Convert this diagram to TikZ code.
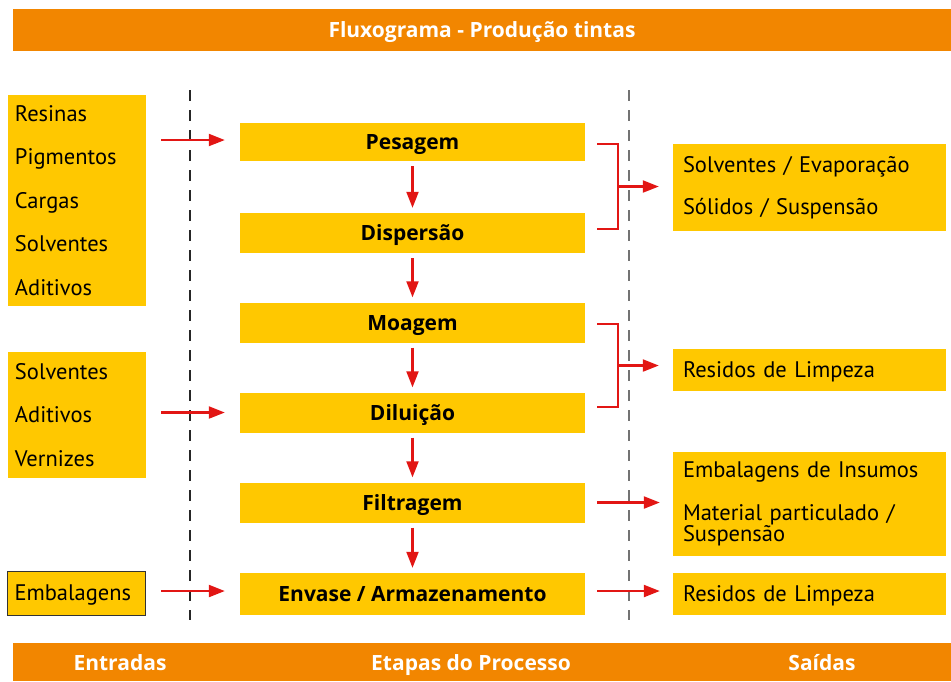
\documentclass[tikz,border=0pt]{standalone}
\usepackage{fontspec}
\setmainfont{PT Sans}
\newfontfamily\headfont{Open Sans}
\usetikzlibrary{arrows.meta,calc}
\definecolor{barorange}{RGB}{242,134,0}
\definecolor{boxyellow}{RGB}{255,200,0}
\definecolor{arrred}{RGB}{226,22,20}
\begin{document}
\begin{tikzpicture}[x=1pt,y=-1pt,
  bar/.style={fill=barorange,draw=none,text=white,font=\headfont\fontsize{21}{23}\selectfont\bfseries,inner sep=0pt,text height=15pt,text depth=0pt},
  barlabel/.style={text=white,font=\headfont\fontsize{21}{23}\selectfont\bfseries,inner sep=0pt,text height=15pt,text depth=0pt},
  inbox/.style={fill=boxyellow,draw=none,font=\fontsize{22.5}{21.5}\selectfont,align=left,inner xsep=7pt,inner ysep=0pt,text width=124pt,minimum width=138pt},
  outbox/.style={fill=boxyellow,draw=none,font=\fontsize{22.5}{21.5}\selectfont,align=left,inner xsep=10pt,inner ysep=0pt,text width=253pt,minimum width=273pt},
  oneline/.style={text height=15.5pt,text depth=0pt},
  stepbox/.style={fill=boxyellow,draw=none,font=\headfont\fontsize{21}{23}\selectfont\bfseries,minimum width=345pt,minimum height=40pt,inner sep=0pt,text height=15pt,text depth=0pt},
  arr/.style={draw=arrred,line width=2.2pt,-{Triangle[length=16pt,width=12pt]}},
  rl/.style={draw=arrred,line width=2.2pt},
  divider/.style={line width=1.1pt,dash pattern=on 11pt off 9pt}
]
\useasboundingbox (0,0) rectangle (951,681);

% bars
\node[bar,minimum width=938pt,minimum height=42pt] (title) at (482,30) {Fluxograma - Produção tintas};
\node[bar,minimum width=938pt,minimum height=38pt] (foot) at (482,662) {};
\node[barlabel] (lin) at (120,663) {Entradas};
\node[barlabel] (lproc) at (471,663) {Etapas do Processo};
\node[barlabel] (lout) at (822,663) {Saídas};

% dividers
\draw[divider,black!85] (190,90) -- (190,620);
\draw[divider,black!55] (629,90) -- (629,620);

% inputs
\node[inbox,minimum height=211pt] (in1) at (77,200.5) {Resinas\\[22pt]Pigmentos\\[22pt]Cargas\\[22pt]Solventes\\[22pt]Aditivos};
\node[inbox,minimum height=126pt] (in2) at (77,415) {Solventes\\[22pt]Aditivos\\[22pt]Vernizes};
\node[inbox,oneline,minimum height=44pt,draw=black!80,line width=1pt] (emb) at (76.5,593) {Embalagens};

% process steps
\node[stepbox,minimum height=38pt] (pes) at (412.5,142) {Pesagem};
\node[stepbox] (disp) at (412.5,233) {Dispersão};
\node[stepbox] (moa) at (412.5,322.5) {Moagem};
\node[stepbox] (dil) at (412.5,412.5) {Diluição};
\node[stepbox] (fil) at (412.5,502.5) {Filtragem};
\node[stepbox,minimum height=42pt] (env) at (412.5,594) {Envase / Armazenamento};

% outputs
\node[outbox,minimum height=87pt] (outA) at (809.5,187.5) {Solventes / Evaporação\\[21pt]Sólidos / Suspensão};
\node[outbox,oneline,minimum height=42pt] (outB) at (809.5,370) {Residos de Limpeza};
\node[outbox,minimum height=104pt] (outC) at (809.5,504) {Embalagens de Insumos\\[21.5pt]Material particulado /\\Suspensão};
\node[outbox,oneline,minimum height=42pt] (outD) at (809.5,594) {Residos de Limpeza};

% vertical flow
\draw[arr,shorten <=5pt,shorten >=5pt] (pes) -- (disp);
\draw[arr,shorten <=5pt,shorten >=5pt] (disp) -- (moa);
\draw[arr,shorten <=5pt,shorten >=5pt] (moa) -- (dil);
\draw[arr,shorten <=5pt,shorten >=5pt] (dil) -- (fil);
\draw[arr,shorten <=5pt,shorten >=5pt] (fil) -- (env);

% inputs arrows
\draw[arr,shorten <=15pt,shorten >=15pt] ([yshift=2pt]in1.east |- pes.west) -- ([yshift=2pt]pes.west);
\draw[arr,shorten <=15pt,shorten >=15pt] (in2.east |- dil.west) -- (dil.west);
\draw[arr,shorten <=15pt,shorten >=15pt] ([yshift=3pt]emb.east |- env.west) -- ([yshift=3pt]env.west);

% output brackets
\draw[rl] ([xshift=12pt,yshift=-2pt]pes.east) -- ++(21,0) coordinate (t1) |- ([xshift=12pt,yshift=4pt]disp.east) coordinate (b1);
\coordinate (br1) at ($(t1)!0.5!(t1 |- b1)$);
\draw[arr,shorten >=14pt] (br1) -- (br1 -| outA.west);

\draw[rl] ([xshift=12pt,yshift=-1.5pt]moa.east) -- ++(21,0) coordinate (t2) |- ([xshift=12pt,yshift=5.5pt]dil.east) coordinate (b2);
\coordinate (br2) at ($(t2)!0.5!(t2 |- b2)$);
\draw[arr,shorten >=14pt] (br2) -- (br2 -| outB.west);

\draw[arr,shorten <=12pt,shorten >=13pt] (fil.east) -- (fil.east -| outC.west);
\draw[arr,shorten <=12pt,shorten >=13pt] ([yshift=3pt]env.east) -- ([yshift=3pt]env.east -| outD.west);
\end{tikzpicture}
\end{document}
